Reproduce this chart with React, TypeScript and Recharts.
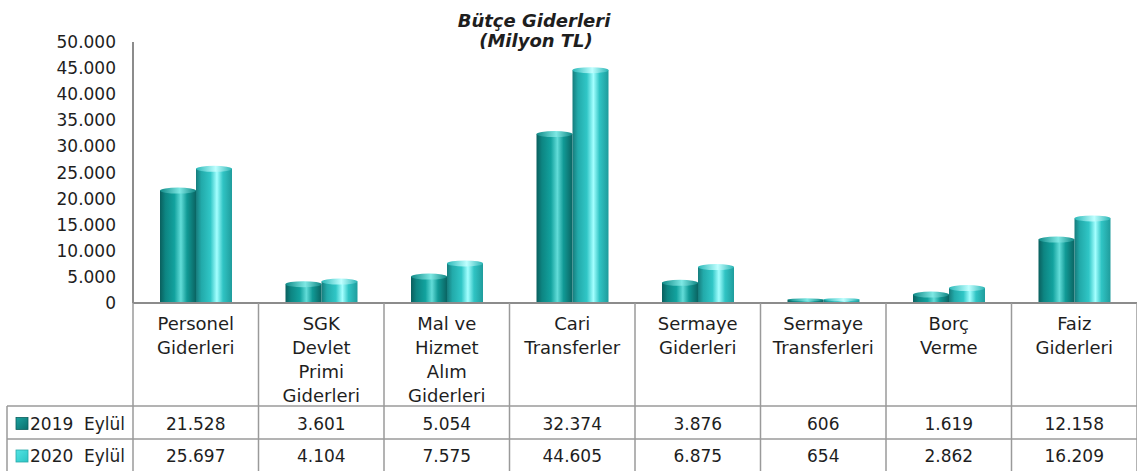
import React from "react";
import { BarChart, Bar, XAxis, YAxis } from "recharts";

const categories = [
  "Personel\nGiderleri",
  "SGK\nDevlet\nPrimi\nGiderleri",
  "Mal ve\nHizmet\nAlım\nGiderleri",
  "Cari\nTransferler",
  "Sermaye\nGiderleri",
  "Sermaye\nTransferleri",
  "Borç\nVerme",
  "Faiz\nGiderleri",
];
const values2019 = [21528, 3601, 5054, 32374, 3876, 606, 1619, 12158];
const values2020 = [25697, 4104, 7575, 44605, 6875, 654, 2862, 16209];
const seriesNames = ["2019  Eylül", "2020  Eylül"];
const yTicks = [0, 5000, 10000, 15000, 20000, 25000, 30000, 35000, 40000, 45000, 50000];
const titleLines = ["Bütçe Giderleri", "(Milyon TL)"];

const data = categories.map((c, i) => ({ name: c, v2019: values2019[i], v2020: values2020[i] }));

const W = 1137;
const H = 471;
const PLOT_LEFT = 133;
const PLOT_TOP = 42;
const PLOT_BOTTOM = 303;
const BAND = (W - PLOT_LEFT) / categories.length;
const ROW1 = 406;
const ROW2 = 439;
const LEGEND_LEFT = 7;
const FONT = "'DejaVu Sans', sans-serif";
const TEXT = "#1e1e1e";
const LINE = "#9a9a9a";

const fmt = (v: number) => String(v).replace(/\B(?=(\d{3})+(?!\d))/g, ".");

const CylBar = (gradId: string, capId: string) => (props: any) => {
  const { x, y, width, height } = props;
  if (height == null || width == null) return null;
  const ry = Math.min(3, Math.max(1, height / 2));
  return (
    <g>
      <rect x={x} y={y} width={width} height={height} fill={`url(#${gradId})`} />
      <ellipse cx={x + width / 2} cy={y} rx={width / 2} ry={ry} fill={`url(#${capId})`} />
    </g>
  );
};

const YTick = (props: any) => {
  const { y, payload } = props;
  return (
    <text x={116} y={y} textAnchor="end" dominantBaseline="central" fontFamily={FONT} fontSize={17} fill={TEXT}>
      {fmt(payload.value)}
    </text>
  );
};

const XTick = (props: any) => {
  const { x, index } = props;
  const left = x - BAND / 2;
  const right = x + BAND / 2;
  const lines = categories[index].split("\n");
  return (
    <g>
      {index === 0 && (
        <g>
          <line x1={left} y1={PLOT_BOTTOM} x2={left} y2={H} stroke={LINE} strokeWidth={1.5} />
          <line x1={LEGEND_LEFT} y1={ROW1} x2={left} y2={ROW1} stroke={LINE} strokeWidth={1.5} />
          <line x1={LEGEND_LEFT} y1={ROW2} x2={left} y2={ROW2} stroke={LINE} strokeWidth={1.5} />
          <line x1={LEGEND_LEFT} y1={ROW1} x2={LEGEND_LEFT} y2={H} stroke={LINE} strokeWidth={1.5} />
          {seriesNames.map((s, k) => {
            const cy = k === 0 ? (ROW1 + ROW2) / 2 + 1 : (ROW2 + H) / 2 + 1;
            return (
              <g key={s}>
                <rect x={16} y={cy - 6} width={12} height={12} fill={k === 0 ? "url(#leg19)" : "url(#leg20)"} stroke={k === 0 ? "#0a5e5c" : "#2aa9a9"} strokeWidth={0.8} />
                <text x={30} y={cy} dominantBaseline="central" fontFamily={FONT} fontSize={17} fill={TEXT} style={{ whiteSpace: "pre" }}>
                  {s}
                </text>
              </g>
            );
          })}
        </g>
      )}
      <line x1={right} y1={PLOT_BOTTOM} x2={right} y2={H} stroke={LINE} strokeWidth={1.5} />
      <line x1={left} y1={ROW1} x2={right} y2={ROW1} stroke={LINE} strokeWidth={1.5} />
      <line x1={left} y1={ROW2} x2={right} y2={ROW2} stroke={LINE} strokeWidth={1.5} />
      {lines.map((l, k) => (
        <text key={k} x={x} y={323 + k * 24} textAnchor="middle" dominantBaseline="central" fontFamily={FONT} fontSize={18} fill={TEXT}>
          {l}
        </text>
      ))}
      <text x={x} y={(ROW1 + ROW2) / 2 + 1} textAnchor="middle" dominantBaseline="central" fontFamily={FONT} fontSize={17} fill={TEXT}>
        {fmt(values2019[index])}
      </text>
      <text x={x} y={(ROW2 + H) / 2 + 1} textAnchor="middle" dominantBaseline="central" fontFamily={FONT} fontSize={17} fill={TEXT}>
        {fmt(values2020[index])}
      </text>
    </g>
  );
};

export default function App() {
  return (
    <div style={{ position: "absolute", left: 0, top: 0, width: W, height: H, background: "#fff" }}>
      <BarChart
        width={W}
        height={H}
        data={data}
        margin={{ top: PLOT_TOP, right: 0, left: 0, bottom: 0 }}
        barGap={0}
      >
        <defs>
          <linearGradient id="g19" x1="0" y1="0" x2="1" y2="0">
            <stop offset="0%" stopColor="#0a5f5e" />
            <stop offset="15%" stopColor="#0d8582" />
            <stop offset="40%" stopColor="#12a29e" />
            <stop offset="58%" stopColor="#62dcd8" />
            <stop offset="75%" stopColor="#119a96" />
            <stop offset="100%" stopColor="#0a6462" />
          </linearGradient>
          <linearGradient id="c19" x1="0" y1="0" x2="1" y2="0">
            <stop offset="0%" stopColor="#0f8a87" />
            <stop offset="55%" stopColor="#7ee8e4" />
            <stop offset="100%" stopColor="#0e8683" />
          </linearGradient>
          <linearGradient id="g20" x1="0" y1="0" x2="1" y2="0">
            <stop offset="0%" stopColor="#167c7c" />
            <stop offset="15%" stopColor="#22aaaa" />
            <stop offset="40%" stopColor="#30c6c6" />
            <stop offset="58%" stopColor="#a4ffff" />
            <stop offset="75%" stopColor="#30c4c4" />
            <stop offset="100%" stopColor="#1f9c9c" />
          </linearGradient>
          <linearGradient id="c20" x1="0" y1="0" x2="1" y2="0">
            <stop offset="0%" stopColor="#2ab8b8" />
            <stop offset="55%" stopColor="#bfffff" />
            <stop offset="100%" stopColor="#2ab4b4" />
          </linearGradient>
          <linearGradient id="leg19" x1="0" y1="0" x2="1" y2="1">
            <stop offset="0%" stopColor="#1aa3a0" />
            <stop offset="100%" stopColor="#0b6e6c" />
          </linearGradient>
          <linearGradient id="leg20" x1="0" y1="0" x2="1" y2="1">
            <stop offset="0%" stopColor="#52e4e4" />
            <stop offset="100%" stopColor="#2cc4c4" />
          </linearGradient>
        </defs>
        <XAxis
          dataKey="name"
          height={H - PLOT_BOTTOM}
          axisLine={{ stroke: "#8c8c8c", strokeWidth: 2 }}
          tickLine={false}
          tick={<XTick />}
          interval={0}
        />
        <YAxis
          width={PLOT_LEFT}
          domain={[0, 50000]}
          ticks={yTicks}
          axisLine={{ stroke: "#8c8c8c", strokeWidth: 2 }}
          tickLine={false}
          tick={<YTick />}
          interval={0}
        />
        <Bar dataKey="v2019" barSize={36} isAnimationActive={false} shape={CylBar("g19", "c19")} />
        <Bar dataKey="v2020" barSize={36} isAnimationActive={false} shape={CylBar("g20", "c20")} />
        <text x={534} y={20} textAnchor="middle" dominantBaseline="central" fontFamily={FONT} fontSize={18} fontWeight="bold" fontStyle="italic" fill={TEXT}>
          {titleLines[0]}
        </text>
        <text x={536} y={40} textAnchor="middle" dominantBaseline="central" fontFamily={FONT} fontSize={18} fontWeight="bold" fontStyle="italic" fill={TEXT}>
          {titleLines[1]}
        </text>
      </BarChart>
    </div>
  );
}
